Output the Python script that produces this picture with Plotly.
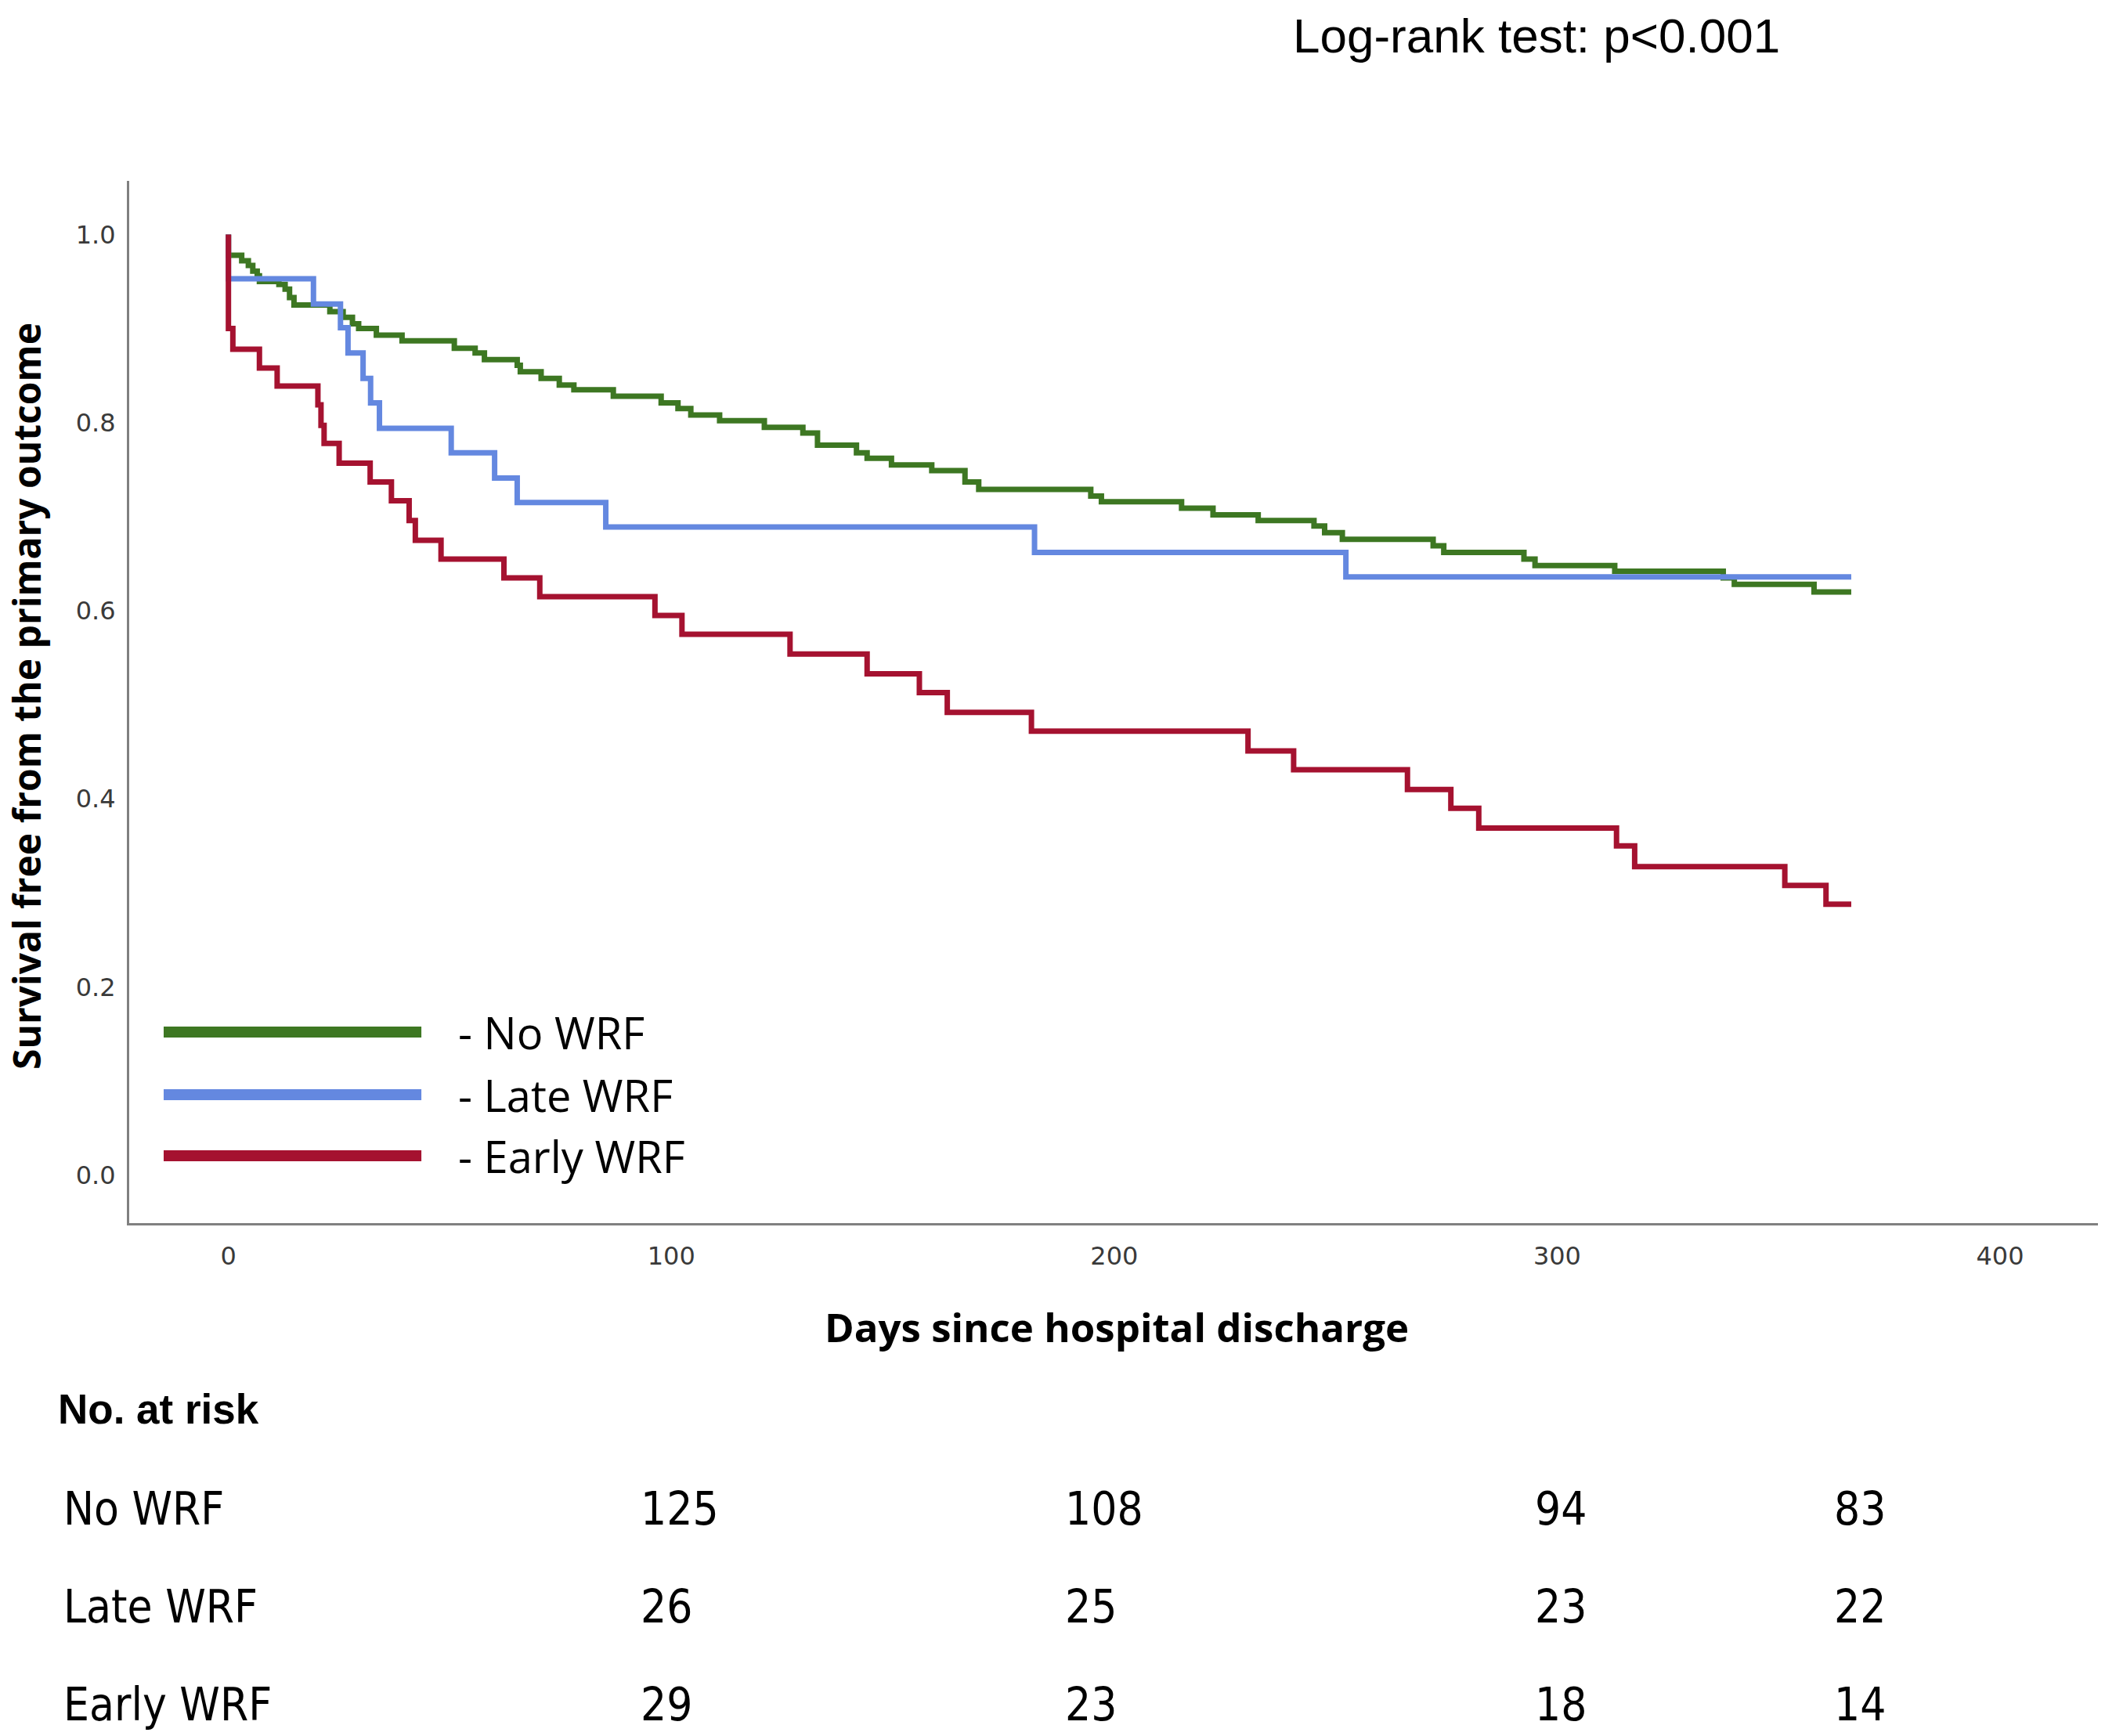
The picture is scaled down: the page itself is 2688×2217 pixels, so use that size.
import plotly.graph_objects as go

# Kaplan-Meier steps: day of event, survival after it
no_wrf_days = [0, 0, 3, 4.5, 5.5, 6.5, 7, 11.4, 12.8, 13.8, 14.8, 22.9, 25.9, 28, 29.4,
               33.4, 39.2, 51, 55.7, 57.8, 65.2, 65.9, 70.6, 74.7, 78, 86.9, 97.7, 101.5,
               104.4, 110.9, 121, 129.7, 133, 141.8, 144.2, 149.7, 158.8, 166.3, 169.4,
               194.7, 197.1, 215.2, 222.3, 232.5, 245.1, 247.5, 251.5, 272, 274.4, 292.5,
               295, 313, 337.5, 340, 358, 366.4]
no_wrf_surv = [1.0, 0.978, 0.972, 0.967, 0.961, 0.956, 0.950, 0.947, 0.942, 0.933, 0.925,
               0.918, 0.912, 0.905, 0.900, 0.893, 0.887, 0.879, 0.874, 0.867, 0.861, 0.854,
               0.847, 0.840, 0.835, 0.828, 0.821, 0.815, 0.808, 0.802, 0.795, 0.789, 0.776,
               0.768, 0.762, 0.755, 0.749, 0.737, 0.729, 0.722, 0.716, 0.709, 0.702, 0.696,
               0.690, 0.683, 0.676, 0.669, 0.662, 0.655, 0.648, 0.642, 0.635, 0.628, 0.620,
               0.620]

late_wrf_days = [0, 0, 19.2, 25.3, 27.0, 30.4, 32.1, 34.1, 50.3, 60.1, 65.2, 85.2,
                 182, 252.3, 366.4]
late_wrf_surv = [1.0, 0.953, 0.926, 0.901, 0.874, 0.847, 0.821, 0.794, 0.768, 0.741,
                 0.715, 0.689, 0.662, 0.636, 0.636]

early_wrf_days = [0, 0, 1, 7, 11, 20.2, 20.9, 21.6, 25, 32, 36.8, 40.8, 42.2, 48, 62.2,
                  70.3, 96.3, 102.4, 126.8, 144.2, 156, 162.3, 181.3, 230.2, 240.5, 266.2,
                  276, 282.3, 313.4, 317.5, 351.4, 360.7, 366.4]
early_wrf_surv = [1.0, 0.900, 0.878, 0.858, 0.839, 0.819, 0.797, 0.778, 0.757, 0.737,
                  0.717, 0.696, 0.675, 0.655, 0.635, 0.615, 0.595, 0.575, 0.554, 0.533,
                  0.513, 0.492, 0.472, 0.451, 0.431, 0.410, 0.390, 0.369, 0.350, 0.328,
                  0.308, 0.288, 0.288]

group_names = ["No WRF", "Late WRF", "Early WRF"]
group_colors = ["#3D7722", "#6488E0", "#A51230"]

# number at risk table
at_risk_no_wrf = [125, 108, 94, 83]
at_risk_late_wrf = [26, 25, 23, 22]
at_risk_early_wrf = [29, 23, 18, 14]

x_ticks = [0, 100, 200, 300, 400]
y_ticks = [0.0, 0.2, 0.4, 0.6, 0.8, 1.0]

fig = go.Figure()

series = [(no_wrf_days, no_wrf_surv), (late_wrf_days, late_wrf_surv),
          (early_wrf_days, early_wrf_surv)]
for (days, surv), name, color in zip(series, group_names, group_colors):
    fig.add_trace(go.Scatter(x=days, y=surv, name=name, mode="lines",
                             line=dict(color=color, width=7, shape="hv"),
                             showlegend=False))

axis_font = dict(family="DejaVu Sans", size=32, color="#3a3a3a")

# page body adds an 8px margin, so the figure is 8px smaller than the window
fig.update_layout(
    width=2680, height=2209,
    margin=dict(l=157, r=9, t=223, b=655),
    plot_bgcolor="white", paper_bgcolor="white",
    xaxis=dict(range=[-22.4, 422.1], tickvals=x_ticks, showgrid=False, zeroline=False,
               showline=True, linecolor="#808080", linewidth=3, ticks="",
               tickfont=axis_font, ticklabelstandoff=12),
    yaxis=dict(range=[-0.051, 1.057], tickvals=y_ticks, tickformat=".1f", showgrid=False,
               zeroline=False, showline=True, linecolor="#808080", linewidth=3, ticks="",
               tickfont=axis_font, ticklabelstandoff=8),
)

# axis titles
fig.add_annotation(text="Days since hospital discharge", xref="paper", yref="paper",
                   x=0.5016, y=-0.0992, showarrow=False,
                   font=dict(family="Open Sans", size=51, color="black", weight="bold"),
                   xanchor="center", yanchor="middle")
fig.add_annotation(text="Survival free from the primary outcome", xref="paper", yref="paper",
                   x=-0.0525, y=0.5056, showarrow=False, textangle=-90,
                   font=dict(family="Open Sans", size=48, color="black", weight="bold"),
                   xanchor="center", yanchor="middle")

fig.add_annotation(text="Log-rank test: p<0.001", xref="paper", yref="paper",
                   x=0.7148, y=1.139, showarrow=False,
                   font=dict(family="Liberation Sans", size=62, color="black"),
                   xanchor="center", yanchor="middle")

# legend drawn by hand so the key lines can be long
legend_y = [0.1833, 0.1232, 0.0646]
for name, color, ly in zip(group_names, group_colors, legend_y):
    fig.add_shape(type="line", xref="paper", yref="paper", x0=0.0175, x1=0.1484,
                  y0=ly, y1=ly, line=dict(color=color, width=14))
    fig.add_annotation(text="- " + name, xref="paper", yref="paper", x=0.1663, y=ly,
                       showarrow=False, xanchor="left", yanchor="middle",
                       font=dict(family="Open Sans", size=56, color="black"))

# number at risk
narrow = "Liberation Sans Narrow, DejaVu Sans Condensed, Arial Narrow, sans-serif"
fig.add_annotation(text="<b>No. at risk</b>", xref="paper", yref="paper", x=-0.037,
                   y=-0.1788, showarrow=False, xanchor="left", yanchor="middle",
                   font=dict(family="Liberation Sans", size=53, color="black"))
row_y = [-0.2742, -0.3681, -0.4621]
col_x = [0.259, 0.4745, 0.7132, 0.8652]
rows = [at_risk_no_wrf, at_risk_late_wrf, at_risk_early_wrf]
for name, counts, ry in zip(group_names, rows, row_y):
    fig.add_annotation(text=name, xref="paper", yref="paper", x=-0.0342, y=ry,
                       showarrow=False, xanchor="left", yanchor="middle",
                       font=dict(family=narrow, size=58, color="black"))
    for n, cx in zip(counts, col_x):
        fig.add_annotation(text=str(n), xref="paper", yref="paper", x=cx, y=ry,
                           showarrow=False, xanchor="left", yanchor="middle",
                           font=dict(family=narrow, size=58, color="black"))

fig.write_html("out.html")
